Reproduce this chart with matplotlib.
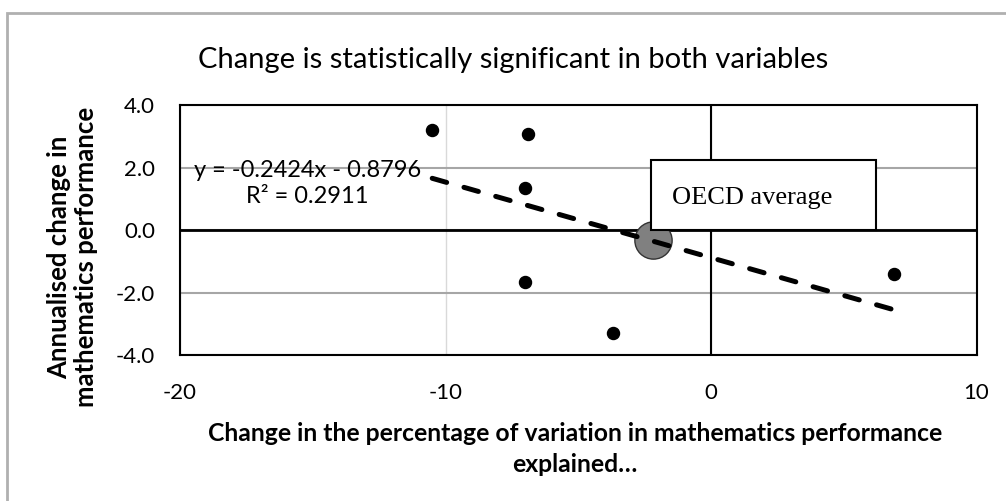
import numpy as np
import matplotlib.pyplot as plt
from matplotlib.patches import Rectangle

# 資料點 (讀圖估計)
x_vals = [-10.5, -6.9, -7.0, -7.0, -3.7, 6.9]
y_vals = [3.2, 3.1, 1.35, -1.65, -3.3, -1.4]
oecd_x = [-2.2]
oecd_y = [-0.3]
slope, intercept = -0.2424, -0.8796
r2 = 0.2911

x_ticks = [-20, -10, 0, 10]
y_ticks = [-4.0, -2.0, 0.0, 2.0, 4.0]

title = 'Change is statistically significant in both variables'
xlabel = 'Change in the percentage of variation in mathematics performance\nexplained…'
ylabel = 'Annualised change in\nmathematics performance'

plt.rcParams['font.family'] = ['Lato', 'DejaVu Sans']

fig = plt.figure(figsize=(10.06, 5.01), dpi=100)
ax = fig.add_axes([180/1006, 1-355/501, (976.5-180)/1006, 249.5/501])

# 外框 (灰色)
fig.patches.append(Rectangle((7/1006, -0.1), 1.2, 1-13/501+0.1, transform=fig.transFigure,
                             fill=False, edgecolor='#b0b0b0', linewidth=2))

ax.set_xlim(-20, 10)
ax.set_ylim(-4, 4)
ax.set_xticks(x_ticks)
ax.set_yticks(y_ticks)
ax.set_xticklabels([str(t) for t in x_ticks])
ax.set_yticklabels(['%.1f' % t for t in y_ticks])
ax.tick_params(length=0, labelsize=16)
ax.tick_params(axis='y', pad=18)
ax.tick_params(axis='x', pad=20)

# 格線
ax.yaxis.grid(True, color='#a6a6a6', linewidth=1.5, zorder=0)
ax.xaxis.grid(True, color='#d9d9d9', linewidth=1, zorder=0)
ax.set_axisbelow(True)
ax.axhline(0, color='black', linewidth=2, zorder=1)
ax.axvline(0, color='black', linewidth=1.5, zorder=1)
for s in ax.spines.values():
    s.set_color('black')
    s.set_linewidth(1.5)

# OECD 平均
ax.scatter(oecd_x, oecd_y, s=720, color='#808080', edgecolor='#333333', linewidth=1, zorder=3)
# 資料點
ax.scatter(x_vals, y_vals, s=75, color='black', zorder=4)

# 趨勢線
tx = np.array([min(x_vals), max(x_vals)])
ax.plot(tx, slope*tx + intercept, color='black', linewidth=3.6,
        linestyle=(0, (3, 3.6)), dash_capstyle='round', zorder=5)

ax.text(-15.2, 1.5, 'y = %.4fx - %.4f\nR² = %.4f' % (slope, -intercept, r2),
        ha='center', va='center', fontsize=17, linespacing=1.25, zorder=6)

# OECD 文字框
ax.add_patch(Rectangle((-2.26, 0.0), 8.49, 2.24, facecolor='white', edgecolor='black',
                       linewidth=1.5, zorder=6))
ax.text(1.55, 1.05, 'OECD average', family='Liberation Serif', fontsize=19,
        ha='center', va='center', zorder=7)

fig.text(513/1006, 1-60/501, title, ha='center', va='center', fontsize=21)
fig.text(575/1006, 1-449/501, xlabel, ha='center', va='center', fontsize=17.8,
         fontweight='bold', linespacing=1.45)
fig.text(73/1006, 1-257/501, ylabel, ha='center', va='center', fontsize=18.5,
         fontweight='bold', rotation=90, linespacing=1.15)

fig.savefig('out.png', dpi=100)
